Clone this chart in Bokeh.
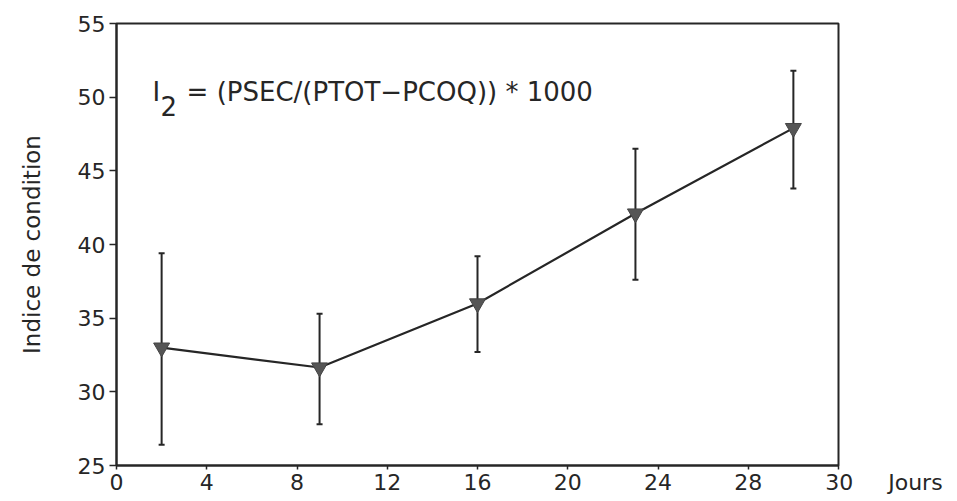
from bokeh.plotting import figure
from bokeh.models import ColumnDataSource, Whisker, Label, FixedTicker, Range1d
from bokeh.embed import file_html
from bokeh.resources import INLINE

days = [2, 9, 16, 23, 30]
indice = [33.0, 31.65, 36.0, 42.1, 47.9]
upper = [39.4, 35.3, 39.2, 46.5, 51.8]
lower = [26.4, 27.8, 32.7, 37.6, 43.8]

x_ticks = [0, 4, 8, 12, 16, 20, 24, 28, 32]
x_unit = "Jours"
NB = "\u00a0"
x_tick_labels = {32: NB * 13 + "30" + NB * 5 + x_unit}
y_ticks = [25, 30, 35, 40, 45, 50, 55]

FONT = "DejaVu Sans"
INK = "#262626"

p = figure(width=957, height=501, output_backend="svg", toolbar_location=None,
           x_range=Range1d(0, 32), y_range=Range1d(25, 55),
           min_border_left=116, min_border_right=119, min_border_top=23, min_border_bottom=36)
p.grid.visible = False
p.outline_line_color = INK
p.outline_line_width = 2
p.background_fill_color = "white"
p.border_fill_color = "white"

src = ColumnDataSource(dict(x=days, y=indice, up=upper, lo=lower))

w = Whisker(source=src, base="x", upper="up", lower="lo", line_color=INK, line_width=2)
for h in (w.upper_head, w.lower_head):
    h.size = 6
    h.line_width = 2
    h.line_color = INK
p.add_layout(w)

p.line("x", "y", source=src, line_color=INK, line_width=2.2)
p.scatter("x", "y", source=src, marker="inverted_triangle", size=16,
          fill_color="#555555", line_color="#444444", line_width=1)

for ax in (p.xaxis[0], p.yaxis[0]):
    ax.axis_line_color = INK
    ax.axis_line_width = 2
    ax.major_tick_line_color = INK
    ax.major_tick_line_width = 1.5
    ax.minor_tick_line_color = None
    ax.major_label_text_font = FONT
    ax.major_label_text_font_size = "22px"
    ax.major_label_text_color = INK

p.xaxis.ticker = FixedTicker(ticks=x_ticks)
p.xaxis.major_label_overrides = x_tick_labels
p.xaxis.major_tick_out = 4
p.xaxis.major_tick_in = 0
p.xaxis.major_label_standoff = 0
p.xaxis.major_label_text_font_size = "22px"

p.yaxis.ticker = FixedTicker(ticks=y_ticks)
p.yaxis.major_tick_out = 7
p.yaxis.major_tick_in = 0
p.yaxis.major_label_standoff = 4
p.yaxis.axis_label = "Indice de condition"
p.yaxis.axis_label_text_font = FONT
p.yaxis.axis_label_text_font_size = "23px"
p.yaxis.axis_label_text_font_style = "normal"
p.yaxis.axis_label_text_color = INK
p.yaxis.axis_label_standoff = 30

p.add_layout(Label(x=1.6, y=50, x_offset=0, y_offset=-10, text="I",
                   text_font=FONT, text_font_size="26px", text_color=INK))
p.add_layout(Label(x=1.6, y=50, x_offset=8, y_offset=-19, text="2",
                   text_font=FONT, text_font_size="26px", text_color=INK))
p.add_layout(Label(x=1.6, y=50, x_offset=34, y_offset=-10, text="= (PSEC/(PTOT\u2212PCOQ)) * 1000",
                   text_font=FONT, text_font_size="26px", text_color=INK))

open("out.html", "w").write(file_html(p, INLINE))
